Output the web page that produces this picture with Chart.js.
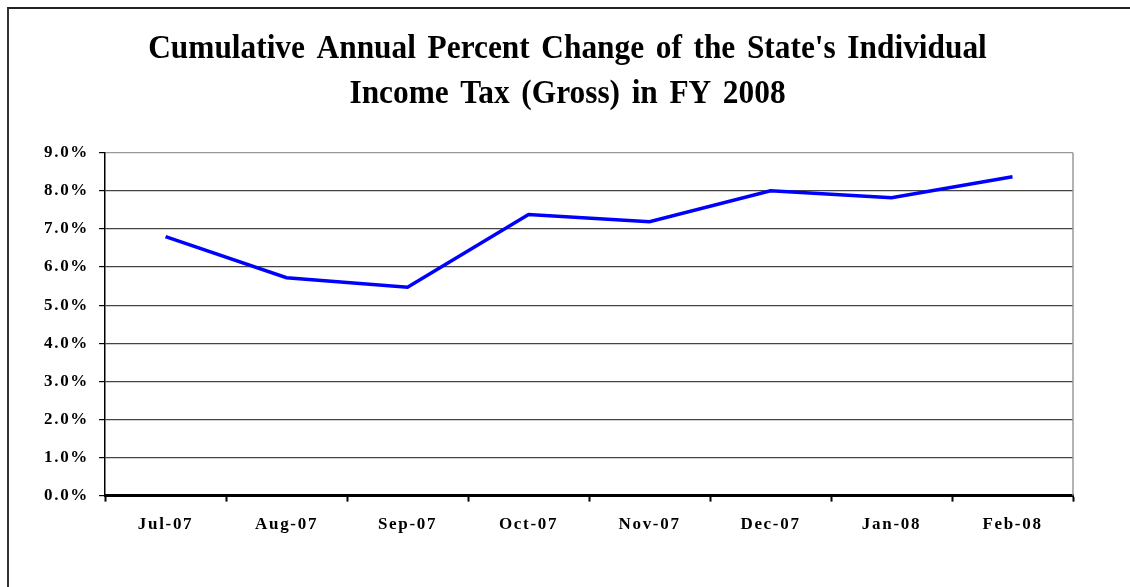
<!DOCTYPE html>
<html>
<head>
<meta charset="utf-8">
<script src="https://cdn.jsdelivr.net/npm/chart.js@4"></script>
<style>
  html,body{margin:0;padding:0;background:#fff;}
  #wrap{position:relative;width:1130px;height:587px;}
  #frame{position:absolute;left:7px;top:7px;right:0;bottom:0;border-top:2px solid #222;border-left:2px solid #333;pointer-events:none;}
  canvas{position:absolute;left:0;top:0;}
</style>
</head>
<body>
<div id="wrap">
  <canvas id="c" width="1130" height="587"></canvas>
  <div id="frame"></div>
</div>
<script>
// data
const months = ['Jul-07','Aug-07','Sep-07','Oct-07','Nov-07','Dec-07','Jan-08','Feb-08'];
const pctChange = [6.8, 5.72, 5.47, 7.38, 7.19, 8.0, 7.82, 8.37];
const titleLines = ["Cumulative Annual Percent Change of the State's Individual", "Income Tax (Gross) in FY 2008"];

const SERIF = "'Liberation Serif','Times New Roman',serif";

// the original is an old spreadsheet chart: spaced-out axis text, condensed title
const textLook = {
  id:'textLook',
  beforeUpdate(chart){ chart.ctx.letterSpacing='1.7px'; },
  beforeDraw(chart){
    const ctx=chart.ctx;
    ctx.letterSpacing='1.7px';
    const tb=chart.titleBlock;
    if(tb && !tb._wrapped){
      const orig=tb.draw.bind(tb);
      tb.draw=function(){
        const cx=(tb.left+tb.right)/2;
        ctx.save();
        ctx.letterSpacing='0px';
        ctx.wordSpacing='4px';
        ctx.translate(cx+14,0); ctx.scale(0.95,1); ctx.translate(-cx,0);
        orig();
        ctx.restore();
      };
      tb._wrapped=true;
    }
    const xs=chart.scales.x;
    if(xs && !xs._wrapped){
      const origX=xs.draw.bind(xs);
      xs.draw=function(a){
        ctx.save(); ctx.letterSpacing='2.4px'; origX(a); ctx.restore();
      };
      xs._wrapped=true;
    }
  }
};

// right edge of plot area in gray
const plotEdge = {
  id:'plotEdge',
  afterDraw(chart){
    const a=chart.chartArea, ctx=chart.ctx;
    ctx.save();
    ctx.strokeStyle='#999'; ctx.lineWidth=1.5;
    ctx.beginPath();
    ctx.moveTo(a.right,a.top); ctx.lineTo(a.right,a.bottom);
    ctx.stroke();
    ctx.restore();
  }
};

new Chart(document.getElementById('c').getContext('2d'),{
  type:'line',
  data:{labels:months,datasets:[{
    data:pctChange,
    borderColor:'#0000FF',borderWidth:3.5,
    pointRadius:0,tension:0,fill:false
  }]},
  options:{
    responsive:false,animation:false,
    layout:{padding:{left:34,right:57,top:8,bottom:39}},
    plugins:{
      legend:{display:false},tooltip:{enabled:false},
      title:{display:true,text:titleLines,color:'#000',
        font:{family:SERIF,size:33,weight:'bold',lineHeight:1.36},
        padding:{top:19.5,bottom:35.5}}
    },
    scales:{
      x:{
        offset:true,
        grid:{offset:true,drawOnChartArea:false,drawTicks:true,tickLength:6,tickColor:'#000',tickWidth:2},
        border:{color:'#000',width:3},
        ticks:{color:'#000',font:{family:SERIF,size:17,weight:'bold'},padding:13,maxRotation:0}
      },
      y:{
        min:0,max:9,
        grid:{color:ctx=>ctx.tick.value===9?'#999':'#444',lineWidth:1.2,tickLength:6,tickColor:'#000'},
        border:{color:'#000',width:1.5},
        ticks:{stepSize:1,color:'#000',padding:10,
          font:{family:SERIF,size:17,weight:'bold'},
          callback:v=>v.toFixed(1)+'%'}
      }
    }
  },
  plugins:[textLook,plotEdge]
});
</script>
</body>
</html>
